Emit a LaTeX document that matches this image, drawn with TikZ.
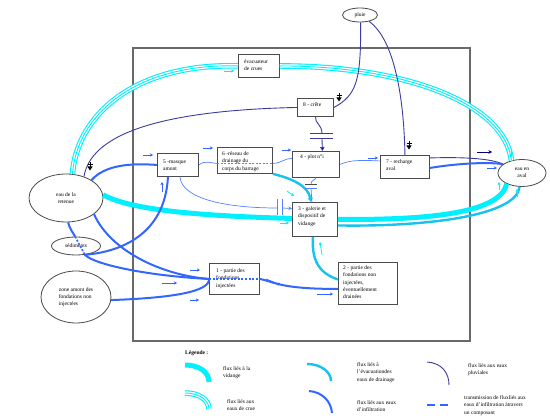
\documentclass[tikz,border=0pt]{standalone}
\usepackage{fontspec}
\setmainfont{Liberation Serif}
\usetikzlibrary{arrows.meta,shapes.geometric}
\definecolor{cyanv}{RGB}{0,240,255}
\definecolor{drain}{RGB}{20,195,240}
\definecolor{pluv}{RGB}{60,60,160}
\definecolor{infil}{RGB}{51,102,255}
\definecolor{thinb}{RGB}{85,130,255}
\definecolor{navyc}{RGB}{0,0,128}
\definecolor{framec}{RGB}{105,105,105}
\definecolor{boxc}{RGB}{75,75,75}
\newcommand\dfont{\fontsize{5.5}{7.3}\selectfont}
\begin{document}
\begin{tikzpicture}[x=1pt,y=-1pt,
  box/.style={draw=boxc,line width=0.9pt,fill=white,inner sep=0pt,anchor=north west},
  ell/.style={ellipse,draw=boxc,line width=0.8pt,fill=white,inner sep=0pt,align=center,font=\dfont},
  txt/.style={inner sep=0pt,anchor=north west,align=left,font=\dfont},
  vidange/.style={draw=cyanv,line width=5pt},
  crue/.style={draw=cyanv,line width=5.6pt,postaction={draw=white,line width=3.4pt},postaction={draw=cyanv,line width=0.9pt}},
  drainage/.style={draw=drain,line width=2.4pt},
  pluviale/.style={draw=pluv,line width=0.9pt},
  infiltr/.style={draw=infil,line width=2pt},
  thinflow/.style={draw=thinb,line width=0.7pt},
  transm/.style={draw=infil,line width=1.6pt,dash pattern=on 2pt off 1.6pt},
  sarrow/.style={draw=infil,line width=0.8pt,-{Stealth[length=3.2pt,width=3.4pt]}},
  carrow/.style={draw=cyanv,line width=0.8pt,-{Stealth[length=3.2pt,width=3.4pt]}},
  narrow/.style={draw=navyc,line width=0.9pt,-{Stealth[length=3.6pt,width=3.8pt]}},
  bmark/.style={draw=black,line width=0.8pt,-{Triangle[length=4pt,width=5pt]}},
]
\fill[white] (0,0) rectangle (550,419);
\useasboundingbox (0,0) rectangle (550,419);
\draw[framec,line width=1.2pt] (133,48) rectangle (470,341);

% boxes
\node[box,minimum width=41pt,minimum height=23pt] (bev) at (238,54) {};
\node[box,minimum width=36pt,minimum height=18pt] (b8) at (297,98) {};
\node[box,minimum width=47pt,minimum height=26pt] (b4) at (292,151) {};
\node[box,minimum width=49pt,minimum height=23pt] (b7) at (380,155) {};
\node[box,minimum width=41pt,minimum height=23pt] (b5) at (157,153) {};
\node[box,minimum width=55pt,minimum height=26pt] (b6) at (217,147) {};
\node[box,minimum width=45pt,minimum height=34pt] (b3) at (292,202) {};
\node[box,minimum width=59pt,minimum height=42pt] (b2) at (338,262) {};
\node[box,minimum width=50pt,minimum height=31pt] (b1) at (209,263) {};

\node[txt] (tev) at ([shift={(6pt,-5.5pt)}]bev.north west) {évacuateur\\de crues};
\node[txt] (t8) at ([shift={(6pt,-4.5pt)}]b8.north west) {8 - crête};
\node[txt] (t4) at ([shift={(8pt,-3.5pt)}]b4.north west) {4 - plot n°i};
\node[txt] (t7) at ([shift={(6pt,-4.5pt)}]b7.north west) {7 - recharge\\aval};
\node[txt] (t5) at ([shift={(6pt,-6.5pt)}]b5.north west) {5 -masque\\amont};
\node[txt] (t6) at ([shift={(5pt,-4.5pt)}]b6.north west) {6 -réseau de\\drainage du\\corps du barrage};
\node[txt] (t3) at ([shift={(6pt,-4.5pt)}]b3.north west) {3 - galerie et\\dispositif de\\vidange};
\node[txt] (t2) at ([shift={(5pt,-3.5pt)}]b2.north west) {2 - partie des\\fondations non\\injectées,\\éventuellement\\drainées};
\node[txt] (t1) at ([shift={(7pt,-5.5pt)}]b1.north west) {1 - partie des\\fondations\\injectées};

% ellipses
\node[ell,minimum width=35pt,minimum height=14pt] (pluie) at (360,15) {pluie};
\node[ell,minimum width=48pt,minimum height=27pt] (aval) at (522,173) {eau en\\aval};
\node[ell,minimum width=74pt,minimum height=48pt] (ret) at (66,198) {eau de la\\retenue};
\node[ell,minimum width=49pt,minimum height=18pt] (sed) at (76,246) {sédiments};
\node[ell,minimum width=70pt,minimum height=52pt,align=left] (zone) at (76,297) {zone amont des\\fondations non\\injectées};

% crue
\path[crue] (ret.75) .. controls (77,115) and (135,63) .. (bev.west);
\path[crue] (bev.east) .. controls (410,66) and (505,105) .. (aval.130);

% vidange
\path[vidange] (ret.5) .. controls (130,210) and (200,216) .. ([yshift=1pt]b3.west);
\path[vidange] (b3.east) .. controls (420,220) and (500,215) .. (aval.-145);

% drainage
\path[drainage,-{Triangle[length=4pt,width=5pt]}] (b6.south east) .. controls (290,178) and (308,185) .. ([xshift=-4pt]b3.north);
\path[drainage] ([yshift=4pt]b2.west) .. controls (315,272) and (312,255) .. ([xshift=-2pt]b3.south);
\path[drainage] ([yshift=-6pt]b3.east) .. controls (430,227) and (517,215) .. (aval.-100);

% pluviales
\path[pluviale] (pluie.-85) .. controls (361,80) and (357,95) .. (b8.east);
\path[pluviale] (pluie.-35) .. controls (395,40) and (404,100) .. (b7.north);
\path[pluviale] (b8.west) .. controls (180,110) and (92,128) .. (ret.50);
\path[pluviale] ([yshift=9pt]b7.east) .. controls (460,157) and (490,158) .. (aval.155);
\coordinate (c8a) at (322,134);
\coordinate (c8b) at (322,139);
\path[pluviale] (b8.south) .. controls (315,124) and (322,124) .. (c8a);
\draw[pluv,line width=1pt] (310,134) -- (333,134) (310,139) -- (333,139);
\path[pluviale,-{Triangle[length=4pt,width=4.5pt,fill=navyc]}] (c8b) -- ([xshift=6.5pt]b4.north);

% infiltration
\path[infiltr] (ret.35) .. controls (105,165) and (130,163) .. (b5.west);
\path[infiltr] ([xshift=-10pt]b5.south) .. controls (165,235) and (120,252) .. (sed.-45);
\path[infiltr] (ret.-85) .. controls (70,230) and (74,234) .. (sed.95);
\path[transm] (sed.95) -- (sed.-45);
\path[infiltr] (sed.-45) .. controls (95,265) and (150,276) .. (b1.west);
\path[infiltr] (ret.-30) .. controls (110,250) and (160,275) .. (b1.west);
\path[infiltr] (zone.-5) .. controls (170,298) and (210,292) .. (b1.west);
\path[transm] (b1.west) -- (b1.east);
\path[infiltr] (b1.east) .. controls (275,282) and (280,289) .. ([yshift=-5.5pt]b2.west);
\path[infiltr] ([yshift=-1pt]b7.east) .. controls (460,163) and (490,162) .. (aval.155);

% thin flows
\coordinate (c6a) at ([yshift=-3pt]b6.west);
\coordinate (c6b) at ([yshift=-3pt]b6.east);
\path[thinflow] (b5.east) .. controls (205,160) and (210,163) .. (c6a);
\path[thinflow,dash pattern=on 2pt off 1.5pt] (c6a) -- (c6b);
\path[thinflow] (c6b) .. controls (282,163) and (285,158) .. ([yshift=6pt]b4.west);
\path[thinflow] (b4.east) .. controls (350,160) and (360,160) .. ([yshift=6pt]b7.west);
\coordinate (c5a) at (277,208);
\coordinate (c5b) at (282,208);
\path[thinflow] ([xshift=2pt]b5.south) .. controls (182,200) and (230,208) .. (c5a);
\draw[thinb,line width=0.8pt] (277,199) -- (277,215) (282,199) -- (282,215);
\path[thinflow,-{Stealth[length=3.5pt,width=3.5pt]}] (c5b) -- ([yshift=11pt]b3.west);
\coordinate (c4a) at (311,184);
\coordinate (c4b) at (311,188);
\path[thinflow] (b4.south) .. controls (315.5,180) and (311,180) .. (c4a);
\draw[boxc,line width=0.8pt] (305,184) -- (317,184);
\draw[thinb,line width=0.8pt] (305,188) -- (317,188);
\path[thinflow] (c4b) -- ([xshift=-3pt]b3.north);

% small arrows
\draw[sarrow] (143,155) -- (153,155);
\draw[sarrow] (203,148) -- (213,148);
\draw[sarrow] (282,150) -- (291,150);
\draw[sarrow] (368,158) -- (378,158);
\draw[sarrow] (162,192) -- (162,182);
\draw[sarrow] (190,270) -- (200,270);
\draw[sarrow] (162,283) -- (177,283);
\draw[sarrow] (190,300) -- (199,300);
\draw[sarrow] (266,279) -- (281,285);
\draw[sarrow] (317,294) -- (333,294);
\draw[sarrow] (487,168) -- (497,168);
\draw[narrow] (477,152) -- (492,152);
\draw[carrow] (224,71) -- (234,71);
\draw[carrow] (511,149) -- (511,158);
\draw[carrow] (287,191) -- (294,196);
\draw[carrow] (280,223) -- (289,223);
\draw[carrow] (322,255) -- (320,242);
\draw[carrow] (499,190) -- (499,182);
\draw[carrow] (517,197) -- (517,189);

% black markers
\foreach \mx/\my in {90/168,339/99,409/147}{
  \draw[line width=0.7pt] (\mx-2.5,\my-4) -- (\mx+2.5,\my-4);
  \draw[bmark] (\mx,\my-6) -- (\mx,\my+2.5);
}

% legend
\node[inner sep=0pt,anchor=west,font=\dfont\bfseries] (leg) at (185,353) {Légende :};
\draw[cyanv,line width=5pt] (185,365) .. controls (199,365) and (209,372) .. (209,382);
\node[txt] (l1) at (223,366.5) {flux liés à la\\vidange};
\draw[drain,line width=2.4pt] (307,364) .. controls (321,364) and (331,372) .. (331,381);
\node[txt] (l2) at (357,362.5) {flux liés à\\l'évacuationdes\\eaux de drainage};
\draw[pluv,line width=0.9pt] (427,362) .. controls (442,363) and (449,373) .. (449,385);
\node[txt] (l3) at (468,363.5) {flux liés aux eaux\\pluviales};
\path[crue] (185,393) .. controls (199,393) and (209,400) .. (209,409);
\node[txt] (l4) at (227,399.5) {flux liés aux\\eaux de crue};
\draw[infil,line width=2pt] (309,391) .. controls (322,392) and (331,401) .. (332,413);
\node[txt] (l5) at (357,400.5) {flux liés aux eaux\\d'infiltration};
\draw[infil,line width=2pt,dash pattern=on 8pt off 5pt] (427,405) -- (452,405);
\node[txt] (l6) at (464,395.5) {transmission de fluxliés aux\\eaux d'infiltration àtravers\\un composant};
\end{tikzpicture}
\end{document}
